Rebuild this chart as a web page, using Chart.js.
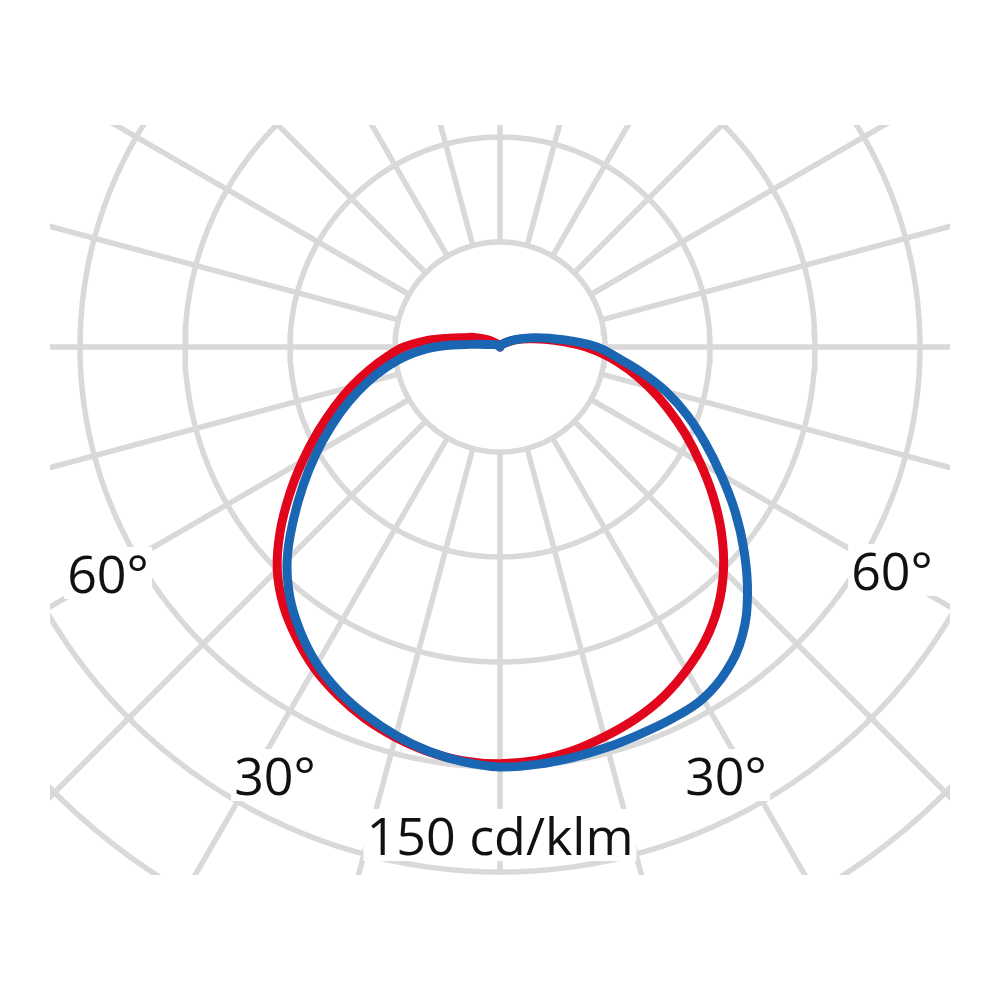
<!DOCTYPE html>
<html>
<head>
<meta charset="utf-8">
<script src="https://cdn.jsdelivr.net/npm/chart.js@4.4.1/dist/chart.umd.min.js"></script>
<style>
    html, body { margin: 0; padding: 0; background: #fff; }
    #wrap { position: relative; width: 1000px; height: 1000px; overflow: hidden; }
    #polarChart { position: absolute; left: 0; top: 0; }
    .lbl {
        position: absolute;
        font-family: "Open Sans", sans-serif;
        font-size: 52px;
        line-height: 52px;
        color: #111;
        background: #fff;
        padding: 0 3px;
        transform: translateX(-50%);
        white-space: nowrap;
    }
</style>
</head>
<body>
<div id="wrap">
    <canvas id="polarChart" width="1000" height="1000"></canvas>
    <div class="lbl" style="left:108px; top:547px;">60°</div>
    <div class="lbl" style="left:892px; top:544px;">60°</div>
    <div class="lbl" style="left:275px; top:749px;">30°</div>
    <div class="lbl" style="left:726px; top:749px;">30°</div>
    <div class="lbl" style="left:500px; top:809px;">150 cd/klm</div>
</div>
<script>
// angle in degrees, 0 = straight down, positive = to the right
const angles = [-180, -165, -150, -135, -120, -110, -105, -100, -95, -90, -85, -80, -75, -70, -65, -60, -55, -50, -45, -40,
    -35, -30, -25, -20, -15, -10, -5, 0, 5, 10, 15, 20, 25, 30, 35, 40, 45, 50, 55, 60, 65, 70, 75, 80, 85, 90,
    95, 100, 105, 110, 120, 135, 150, 165, 180];
// cd/klm, red plane
const redValues = [0, 0.4, 0.9, 1.4, 4.3, 8, 10.3, 14.6, 21.1, 27.4, 32.5, 38, 44, 50.4, 57.4, 65.1, 73.4, 82, 90, 96.3,
    101.4, 106, 109.7, 112.9, 115.4, 117.4, 118.7, 119.1, 118.6, 117.3, 115.3, 113.1, 110.3, 106.6, 102.3, 96.9, 90.3, 82.6, 74.3, 66, 58.3, 50.9, 44, 37.4, 31.1, 24.6,
    18, 12.9, 9.1, 6.6, 3.4, 1.3, 0.7, 0.3, 0];
// cd/klm, blue plane
const blueValues = [0, 0.3, 0.6, 0.9, 1.3, 2, 2.7, 4.3, 8.6, 18.6, 26.3, 32.9, 39.4, 46.1, 53.1, 60.6, 68.6, 77.1, 86, 93.4,
    99.4, 104.6, 108.7, 112, 114.9, 117.3, 119, 120, 119.7, 119.1, 118.4, 117.6, 117, 116, 112.9, 107.7, 100, 91.1, 82, 72.9, 64.6, 56.9, 49.1, 40.9, 33.4, 27.7,
    20.3, 14.3, 10.3, 7.1, 3.7, 1.3, 0.7, 0.3, 0];

const ringValues = [30, 60, 90, 120, 150, 180, 210];
const spokeAngles = [0, 15, 30, 45, 60, 75, 90, 105, 120, 135, 150, 165, 180, 195, 210, 225, 240, 255, 270, 285, 300, 315, 330, 345];
const spokeFrom = 30;
const spokeTo = 210;

const PX_PER_UNIT = 3.5;   // 105 px per ring
const CENTER = {x: 500, y: 347};
const BOX = {left: 50, top: 125, right: 950, bottom: 875};
const GRID_COLOR = '#d9d9d9';

function toXY(deg, value) {
    const rad = deg * Math.PI / 180;
    return {x: value * Math.sin(rad), y: -value * Math.cos(rad)};
}

function gridDatasets() {
    const sets = [];
    for (const ring of ringValues) {
        const pts = [];
        for (let a = 0; a <= 360; a += 2) {
            pts.push(toXY(a, ring));
        }
        sets.push({data: pts, borderColor: GRID_COLOR, borderWidth: 5.5, pointRadius: 0, showLine: true, tension: 0, clip: 0, order: 3});
    }
    for (const a of spokeAngles) {
        sets.push({data: [toXY(a, spokeFrom), toXY(a, spokeTo)], borderColor: GRID_COLOR, borderWidth: 5.5,
            pointRadius: 0, showLine: true, tension: 0, clip: 0, order: 3});
    }
    return sets;
}

function curveDataset(values, color, order) {
    return {
        data: angles.map((a, i) => toXY(a, values[i])),
        borderColor: color,
        borderWidth: 9,
        borderCapStyle: 'round',
        borderJoinStyle: 'round',
        pointRadius: 0,
        showLine: true,
        tension: 0.4,
        clip: 0,
        order: order
    };
}

function getConfig() {
    return {
        type: 'scatter',
        data: {
            datasets: [
                curveDataset(blueValues, '#1a66b3', 0),
                curveDataset(redValues, '#e2061c', 1),
                ...gridDatasets()
            ]
        },
        options: {
            responsive: false,
            animation: false,
            events: [],
            layout: {
                padding: {left: BOX.left, right: 1000 - BOX.right, top: BOX.top, bottom: 1000 - BOX.bottom}
            },
            plugins: {
                legend: {display: false},
                tooltip: {enabled: false}
            },
            scales: {
                x: {
                    type: 'linear',
                    display: false,
                    min: (BOX.left - CENTER.x) / PX_PER_UNIT,
                    max: (BOX.right - CENTER.x) / PX_PER_UNIT
                },
                y: {
                    type: 'linear',
                    display: false,
                    min: (CENTER.y - BOX.bottom) / PX_PER_UNIT,
                    max: (CENTER.y - BOX.top) / PX_PER_UNIT
                }
            }
        }
    };
}

new Chart(document.getElementById('polarChart'), getConfig());
</script>
</body>
</html>
